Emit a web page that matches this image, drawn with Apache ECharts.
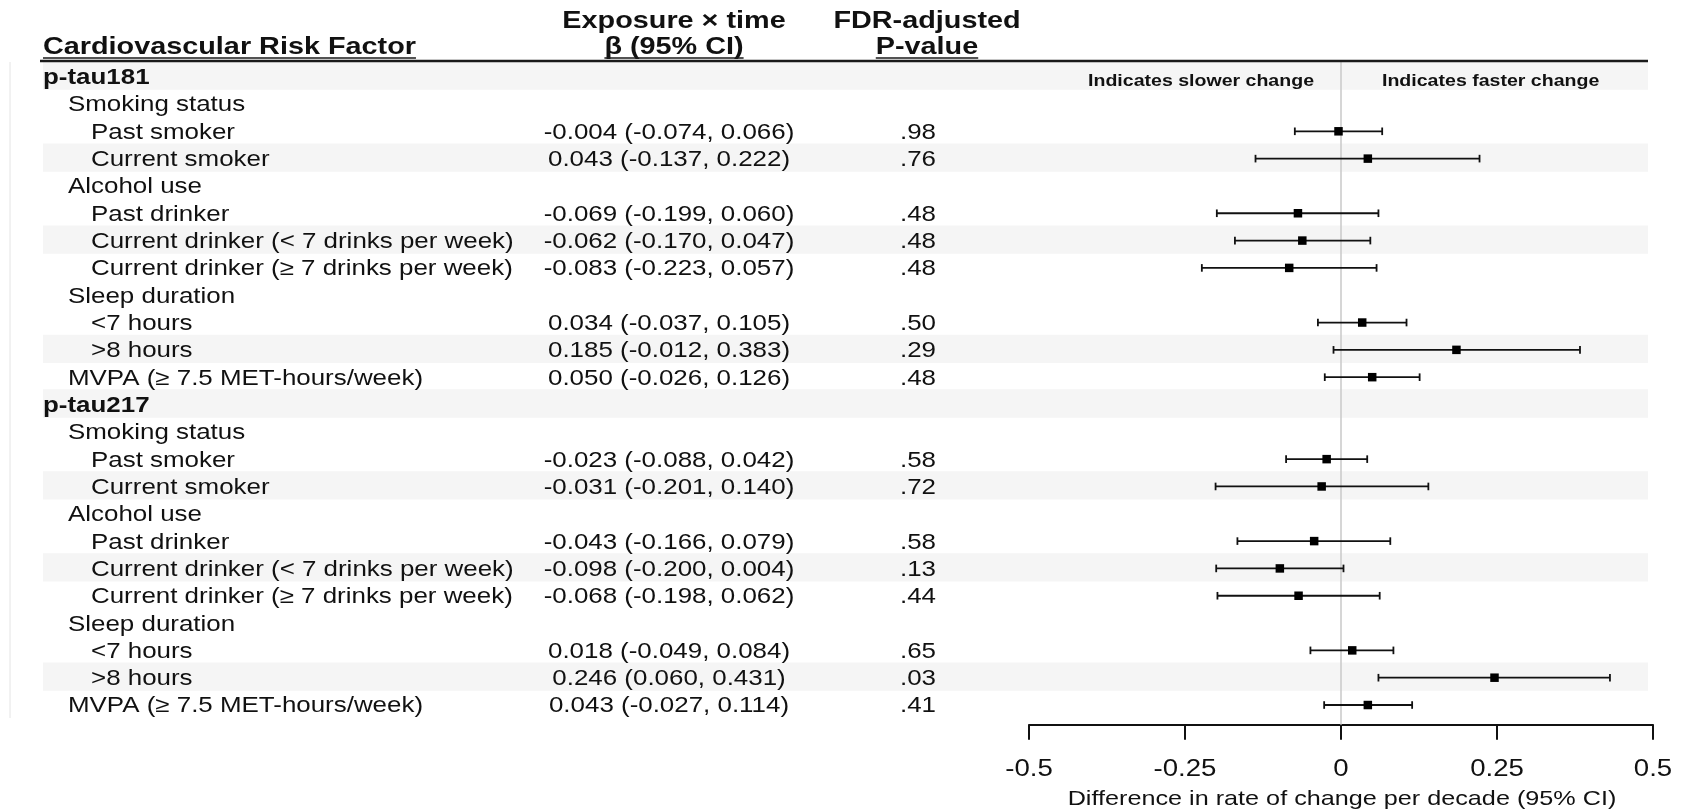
<!DOCTYPE html>
<html>
<head>
<meta charset="utf-8">
<script src="https://cdn.jsdelivr.net/npm/echarts@6/dist/echarts.min.js"></script>
<style>
  html, body { margin: 0; padding: 0; background: #ffffff; }
  #chart { width: 1693px; height: 811px; }
</style>
</head>
<body>
<div id="chart"></div>
<script>
// ---- table rows (top to bottom) ----
const rowLabels = [
  'p-tau181', 'Smoking status', 'Past smoker', 'Current smoker',
  'Alcohol use', 'Past drinker', 'Current drinker (< 7 drinks per week)', 'Current drinker (\u2265 7 drinks per week)',
  'Sleep duration', '<7 hours', '>8 hours', 'MVPA (\u2265 7.5 MET-hours/week)',
  'p-tau217', 'Smoking status', 'Past smoker', 'Current smoker',
  'Alcohol use', 'Past drinker', 'Current drinker (< 7 drinks per week)', 'Current drinker (\u2265 7 drinks per week)',
  'Sleep duration', '<7 hours', '>8 hours', 'MVPA (\u2265 7.5 MET-hours/week)'
];
// 0 = biomarker heading, 1 = exposure group, 2 = exposure level
const rowLevels = [0, 1, 2, 2, 1, 2, 2, 2, 1, 2, 2, 1, 0, 1, 2, 2, 1, 2, 2, 2, 1, 2, 2, 1];

// exposure x time beta and 95% CI
const estimates = [null, null, -0.004, 0.043, null, -0.069, -0.062, -0.083, null, 0.034, 0.185, 0.050,
                   null, null, -0.023, -0.031, null, -0.043, -0.098, -0.068, null, 0.018, 0.246, 0.043];
const lowerCI   = [null, null, -0.074, -0.137, null, -0.199, -0.170, -0.223, null, -0.037, -0.012, -0.026,
                   null, null, -0.088, -0.201, null, -0.166, -0.200, -0.198, null, -0.049, 0.060, -0.027];
const upperCI   = [null, null, 0.066, 0.222, null, 0.060, 0.047, 0.057, null, 0.105, 0.383, 0.126,
                   null, null, 0.042, 0.140, null, 0.079, 0.004, 0.062, null, 0.084, 0.431, 0.114];
const pValues   = ['', '', '.98', '.76', '', '.48', '.48', '.48', '', '.50', '.29', '.48',
                   '', '', '.58', '.72', '', '.58', '.13', '.44', '', '.65', '.03', '.41'];

// rows drawn on a light grey band
const shadedRows = [0, 3, 6, 10, 12, 15, 18, 22];

// x axis
const xTicks = [-0.5, -0.25, 0, 0.25, 0.5];
const xTickLabels = ['-0.5', '-0.25', '0', '0.25', '0.5'];
const xTitle = 'Difference in rate of change per decade (95% CI)';

// ---- layout / style ----
const FONT = 'Liberation Sans, Arial, Helvetica, sans-serif';
const STRETCH = 1.2;           // horizontal stretch of all text
const ROW_FONT = 21.6;
const HEAD_FONT = 24;
const INK = '#111111';
const indentX = [43, 68, 91];
const betaColX = 669;
const pColX = 918;
const betaHeadX = 674;
const pHeadX = 927;
const bandLeft = 43, bandRight = 1648;
const nRows = rowLabels.length;
const ROW_H = 27.32;
const TEXT_DY = 1.5;

function fmt(v) { return v.toFixed(3); }

function stretchedText(x, y, text, opts) {
  return {
    type: 'text', x: x, y: y, scaleX: STRETCH, scaleY: 1, silent: true,
    style: Object.assign({
      text: text, fill: INK, fontFamily: FONT, fontSize: ROW_FONT,
      align: 'left', verticalAlign: 'middle'
    }, opts || {})
  };
}

const rowIndexData = rowLabels.map((_, i) => [i]);
const intervalData = [];
estimates.forEach((e, i) => {
  if (e !== null) intervalData.push([i, e, lowerCI[i], upperCI[i]]);
});

const chart = echarts.init(document.getElementById('chart'), null, { renderer: 'canvas' });

const option = {
  animation: false,
  backgroundColor: '#ffffff',
  grid: { left: 1029, right: 40, top: 63, bottom: 811 - 63 - nRows * ROW_H },
  xAxis: {
    type: 'value', min: -0.5, max: 0.5, interval: 0.25, position: 'bottom', offset: 6,
    axisLine: { show: true, onZero: false, lineStyle: { color: INK, width: 2 } },
    axisTick: { show: true, length: 15, lineStyle: { color: INK, width: 2 } },
    axisLabel: { show: false },
    splitLine: { show: false }
  },
  yAxis: {
    type: 'value', min: -0.5, max: nRows - 0.5, inverse: true, show: false,
    splitLine: { show: false }
  },
  series: [
    // alternating row bands spanning the table and plot
    {
      type: 'custom', name: 'bands', z: 0, clip: false, silent: true,
      data: shadedRows.map(r => [r]),
      encode: { y: 0 },
      renderItem: function (params, api) {
        const r = api.value(0);
        const top = api.coord([0, r - 0.5])[1] - 1.5;
        const bot = api.coord([0, r + 0.5])[1] - 0.5;
        return { type: 'rect', shape: { x: bandLeft, y: top, width: bandRight - bandLeft, height: bot - top },
                 style: { fill: '#f5f5f5' } };
      }
    },
    // null reference line at zero
    {
      type: 'custom', name: 'reference', z: 1, clip: false, silent: true,
      data: [[0]],
      encode: { x: 0 },
      renderItem: function (params, api) {
        const top = api.coord([api.value(0), -0.5]);
        const bot = api.coord([api.value(0), nRows - 0.5]);
        return { type: 'line', shape: { x1: top[0], y1: top[1] - 2, x2: bot[0], y2: bot[1] + 6 },
                 style: { stroke: '#c8c8c8', lineWidth: 1.5 } };
      }
    },
    // table text: row labels, beta (95% CI), p-values
    {
      type: 'custom', name: 'table', z: 4, clip: false, silent: true,
      data: rowIndexData,
      encode: { y: 0 },
      renderItem: function (params, api) {
        const i = api.value(0);
        const y = api.coord([0, i])[1] + TEXT_DY;
        const lvl = rowLevels[i];
        const children = [
          stretchedText(indentX[lvl], y, rowLabels[i], lvl === 0 ? { fontWeight: 'bold' } : {})
        ];
        if (estimates[i] !== null) {
          const txt = fmt(estimates[i]) + ' (' + fmt(lowerCI[i]) + ', ' + fmt(upperCI[i]) + ')';
          children.push(stretchedText(betaColX, y, txt, { align: 'center' }));
          children.push(stretchedText(pColX, y, pValues[i], { align: 'center' }));
        }
        return { type: 'group', children: children };
      }
    },
    // point estimates with 95% CI whiskers
    {
      type: 'custom', name: 'estimates', z: 5, clip: false, silent: true,
      data: intervalData,
      encode: { y: 0, x: [1, 2, 3] },
      renderItem: function (params, api) {
        const row = api.value(0);
        const pe = api.coord([api.value(1), row]);
        const lo = api.coord([api.value(2), row]);
        const hi = api.coord([api.value(3), row]);
        const cap = 3.8, sq = 8.5;
        const ls = { stroke: INK, lineWidth: 1.8 };
        return {
          type: 'group',
          children: [
            { type: 'line', shape: { x1: lo[0], y1: lo[1], x2: hi[0], y2: hi[1] }, style: ls },
            { type: 'line', shape: { x1: lo[0], y1: lo[1] - cap, x2: lo[0], y2: lo[1] + cap }, style: ls },
            { type: 'line', shape: { x1: hi[0], y1: hi[1] - cap, x2: hi[0], y2: hi[1] + cap }, style: ls },
            { type: 'rect', shape: { x: pe[0] - sq / 2, y: pe[1] - sq / 2, width: sq, height: sq },
              style: { fill: '#000000' } }
          ]
        };
      }
    },
    // x-axis tick labels
    {
      type: 'custom', name: 'tickLabels', z: 4, clip: false, silent: true,
      data: xTicks.map(v => [v]),
      encode: { x: 0 },
      renderItem: function (params, api) {
        const p = api.coord([api.value(0), nRows - 0.5]);
        return stretchedText(p[0], p[1] + 51, xTickLabels[params.dataIndex],
                             { align: 'center', fontSize: 23 });
      }
    }
  ],
  graphic: [
    // faint frame line at the left edge of the table
    { type: 'line', silent: true, shape: { x1: 10, y1: 62, x2: 10, y2: 718 },
      style: { stroke: '#e4e4e4', lineWidth: 1 } },
    // header rule
    { type: 'line', silent: true, z: 10, shape: { x1: 40, y1: 61, x2: 1648, y2: 61 },
      style: { stroke: '#1a1a1a', lineWidth: 2.4 } },
    // column headers
    Object.assign(stretchedText(43, 47, 'Cardiovascular Risk Factor',
      { fontWeight: 'bold', fontSize: HEAD_FONT }), { z: 10 }),
    Object.assign(stretchedText(betaHeadX, 21, 'Exposure \u00d7 time',
      { fontWeight: 'bold', fontSize: HEAD_FONT, align: 'center' }), { z: 10 }),
    Object.assign(stretchedText(betaHeadX, 47, '\u03b2 (95% CI)',
      { fontWeight: 'bold', fontSize: HEAD_FONT, align: 'center' }), { z: 10 }),
    Object.assign(stretchedText(pHeadX, 21, 'FDR-adjusted',
      { fontWeight: 'bold', fontSize: HEAD_FONT, align: 'center' }), { z: 10 }),
    Object.assign(stretchedText(pHeadX, 47, 'P-value',
      { fontWeight: 'bold', fontSize: HEAD_FONT, align: 'center' }), { z: 10 }),
    // direction hints above the plot
    Object.assign(stretchedText(1314, 81, 'Indicates slower change',
      { fontWeight: 'bold', fontSize: 17, align: 'right' }), { z: 10, scaleX: 1.15 }),
    Object.assign(stretchedText(1382, 81, 'Indicates faster change',
      { fontWeight: 'bold', fontSize: 17, align: 'left' }), { z: 10, scaleX: 1.15 }),
    // axis title
    Object.assign(stretchedText(1342, 799, xTitle, { align: 'center', fontSize: 21 }), { z: 10 })
  ]
};

chart.setOption(option);

// underline the headers that carry one
(function addUnderlines() {
  const zr = chart.getZr();
  const underline = function (cx, text, align) {
    const w = echarts.format.getTextRect
      ? echarts.format.getTextRect(text, 'bold ' + HEAD_FONT + 'px ' + FONT).width * STRETCH
      : 0;
    const x1 = align === 'left' ? cx : cx - w / 2;
    zr.add(new echarts.graphic.Line({
      shape: { x1: x1, y1: 58, x2: x1 + w, y2: 58 },
      style: { stroke: '#1a1a1a', lineWidth: 1.4 }, silent: true, z: 20
    }));
  };
  underline(43, 'Cardiovascular Risk Factor', 'left');
  underline(betaHeadX, '\u03b2 (95% CI)', 'center');
  underline(pHeadX, 'P-value', 'center');
})();
</script>
</body>
</html>
